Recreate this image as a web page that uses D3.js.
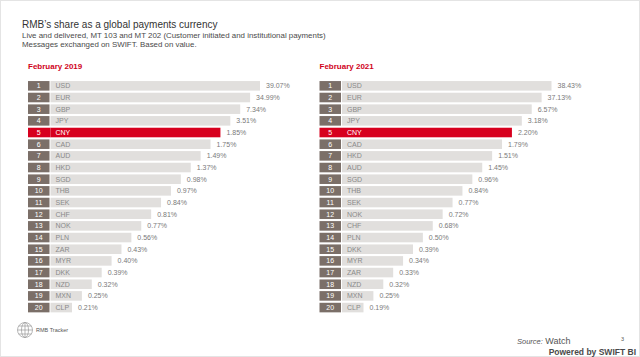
<!DOCTYPE html>
<html><head><meta charset="utf-8">
<script src="https://cdn.jsdelivr.net/npm/d3@7"></script>
<style>html,body{margin:0;padding:0;background:#fff;}svg{display:block;font-family:"Liberation Sans",Arial,sans-serif;}</style>
</head><body>
<script>
const ranks = d3.range(1, 21);
const currencies2019 = ["USD","EUR","GBP","JPY","CNY","CAD","AUD","HKD","SGD","THB","SEK","CHF","NOK","PLN","ZAR","MYR","DKK","NZD","MXN","CLP"];
const values2019 = [39.07,34.99,7.34,3.51,1.85,1.75,1.49,1.37,0.98,0.97,0.84,0.81,0.77,0.56,0.43,0.40,0.39,0.32,0.25,0.21];
const currencies2021 = ["USD","EUR","GBP","JPY","CNY","CAD","HKD","AUD","SGD","THB","SEK","NOK","CHF","PLN","DKK","MYR","ZAR","NZD","MXN","CLP"];
const values2021 = [38.43,37.13,6.57,3.18,2.20,1.79,1.51,1.45,0.96,0.84,0.77,0.72,0.68,0.50,0.39,0.34,0.33,0.32,0.25,0.19];
const panelTitles = ["February 2019","February 2021"];
const highlight = "CNY";

const W = 640, H = 357;
const svg = d3.select("body").append("svg").attr("width", W).attr("height", H);
svg.append("rect").attr("x",0.5).attr("y",0.5).attr("width",W-1).attr("height",H-1)
  .attr("fill","#fff").attr("stroke","#e4e4e4");

// Title block
svg.append("text").attr("x",22).attr("y",28).attr("font-size",10).attr("fill","#333")
  .text("RMB\u2019s share as a global payments  currency");
svg.append("text").attr("x",22).attr("y",37.5).attr("font-size",7.9).attr("fill","#4a4a4a")
  .text("Live and delivered,  MT 103 and MT 202 (Customer initiated and institutional payments)");
svg.append("text").attr("x",22).attr("y",46.5).attr("font-size",7.9).attr("fill","#4a4a4a")
  .text("Messages exchanged on SWIFT. Based on value.");

const y = d3.scaleBand().domain(ranks).range([80, 80 + 20*11.67]).paddingInner(0.18).paddingOuter(0.09);
const len = d3.scaleLinear().domain([1, 20]).range([232, 44]);
const boxW = 21.5;

function panel(x0, title, cur, vals) {
  const g = svg.append("g").attr("transform", `translate(${x0},0)`);
  g.append("text").attr("x",0).attr("y",69).attr("font-size",8).attr("font-weight","bold")
    .attr("fill","#d0021b").text(title);
  const rows = ranks.map((r,i)=>({rank:r, cur:cur[i], val:vals[i]}));
  const row = g.selectAll("g.row").data(rows).join("g").attr("class","row")
    .attr("transform", d=>`translate(0,${y(d.rank)})`);
  const h = y.bandwidth();
  row.append("rect").attr("x",boxW+1).attr("y",0).attr("width",d=>len(d.rank)-boxW-1).attr("height",h)
    .attr("fill",d=>d.cur===highlight?"#d7001e":"#e1dfdd");
  row.append("rect").attr("x",0).attr("y",0).attr("width",d=>d.cur===highlight?boxW+1:boxW).attr("height",h)
    .attr("fill",d=>d.cur===highlight?"#d7001e":"#7b6f68");
  row.append("text").attr("x",boxW/2).attr("y",h/2).attr("dy","0.36em").attr("text-anchor","middle")
    .attr("font-size",7).attr("fill","#fff").text(d=>d.rank);
  row.append("text").attr("x",boxW+6).attr("y",h/2).attr("dy","0.36em")
    .attr("font-size",7).attr("fill",d=>d.cur===highlight?"#fff":"#8a8a8a").text(d=>d.cur);
  row.append("text").attr("x",d=>len(d.rank)+6).attr("y",h/2).attr("dy","0.36em")
    .attr("font-size",7).attr("fill","#7a7a7a").text(d=>d3.format(".2f")(d.val)+"%");
}
panel(28, panelTitles[0], currencies2019, values2019);
panel(319.5, panelTitles[1], currencies2021, values2021);

// Footer: globe icon
const gl = svg.append("g").attr("transform","translate(25,330)").attr("fill","none").attr("stroke","#9a9a9a").attr("stroke-width",0.7);
gl.append("circle").attr("r",7.5);
gl.append("ellipse").attr("rx",3.5).attr("ry",7.5);
gl.append("line").attr("x1",0).attr("x2",0).attr("y1",-7.5).attr("y2",7.5);
[-4,0,4].forEach(v=>{const w=Math.sqrt(56.25-v*v);gl.append("line").attr("x1",-w).attr("x2",w).attr("y1",v).attr("y2",v);});
svg.append("text").attr("x",36).attr("y",332).attr("font-size",5.5).attr("fill","#555").text("RMB Tracker");

const src = svg.append("text").attr("x",517).attr("y",344).attr("fill","#555");
src.append("tspan").attr("font-size",7.5).attr("font-style","italic").text("Source:");
src.append("tspan").attr("font-size",9).text(" Watch");
svg.append("text").attr("x",621).attr("y",341).attr("font-size",5.5).attr("fill","#555").text("3");
svg.append("text").attr("x",636).attr("y",355).attr("text-anchor","end").attr("font-size",8.5)
  .attr("font-weight","bold").attr("fill","#4a4a4a").text("Powered by SWIFT BI");
</script>
</body></html>
